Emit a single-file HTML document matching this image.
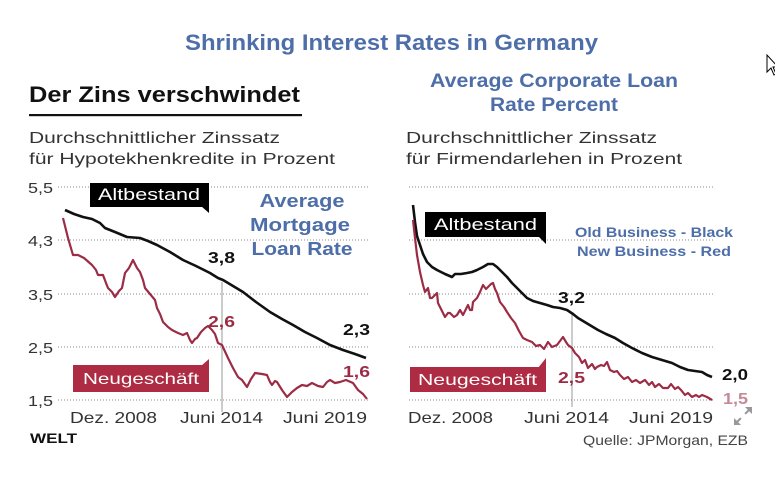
<!DOCTYPE html>
<html><head><meta charset="utf-8">
<style>
html,body{margin:0;padding:0;background:#fff;}
svg{display:block;}
text{font-family:"Liberation Sans",sans-serif;}
</style></head>
<body>
<svg width="775" height="478" viewBox="0 0 775 478" xmlns="http://www.w3.org/2000/svg">
<rect width="775" height="478" fill="#fff"/>

<!-- main title -->
<text x="185" y="50" font-size="22" font-weight="bold" fill="#4d6ea8" textLength="413" lengthAdjust="spacingAndGlyphs">Shrinking Interest Rates in Germany</text>

<!-- left header -->
<text x="29" y="102" font-size="22" font-weight="bold" fill="#111" textLength="271" lengthAdjust="spacingAndGlyphs">Der Zins verschwindet</text>
<rect x="29" y="114" width="273" height="2.2" fill="#111"/>
<text x="29" y="143" font-size="16" fill="#333" textLength="251" lengthAdjust="spacingAndGlyphs">Durchschnittlicher Zinssatz</text>
<text x="29" y="164" font-size="16" fill="#333" textLength="306" lengthAdjust="spacingAndGlyphs">für Hypotekhenkredite in Prozent</text>

<!-- right header -->
<text x="554" y="87" font-size="19" font-weight="bold" fill="#4d6ea8" text-anchor="middle" textLength="248" lengthAdjust="spacingAndGlyphs">Average Corporate Loan</text>
<text x="554" y="111" font-size="19" font-weight="bold" fill="#4d6ea8" text-anchor="middle" textLength="128" lengthAdjust="spacingAndGlyphs">Rate Percent</text>
<text x="406" y="143" font-size="16" fill="#333" textLength="251" lengthAdjust="spacingAndGlyphs">Durchschnittlicher Zinssatz</text>
<text x="406" y="164" font-size="16" fill="#333" textLength="276" lengthAdjust="spacingAndGlyphs">für Firmendarlehen in Prozent</text>

<!-- left grid -->
<g stroke="#888" stroke-width="1" stroke-dasharray="1 2">
<line x1="58" y1="187" x2="370" y2="187"/>
<line x1="58" y1="240" x2="370" y2="240"/>
<line x1="58" y1="294" x2="370" y2="294"/>
<line x1="58" y1="347" x2="370" y2="347"/>
<line x1="58" y1="400" x2="370" y2="400"/>
<line x1="409" y1="187" x2="713" y2="187"/>
<line x1="409" y1="240" x2="713" y2="240"/>
<line x1="409" y1="294" x2="713" y2="294"/>
<line x1="409" y1="347" x2="713" y2="347"/>
<line x1="409" y1="400" x2="713" y2="400"/>
</g>

<!-- y labels -->
<g font-size="15" fill="#333">
<text x="28" y="193" textLength="25" lengthAdjust="spacingAndGlyphs">5,5</text>
<text x="28" y="246" textLength="25" lengthAdjust="spacingAndGlyphs">4,3</text>
<text x="28" y="300" textLength="25" lengthAdjust="spacingAndGlyphs">3,5</text>
<text x="28" y="353" textLength="25" lengthAdjust="spacingAndGlyphs">2,5</text>
<text x="28" y="406" textLength="25" lengthAdjust="spacingAndGlyphs">1,5</text>
</g>

<!-- vertical markers -->
<line x1="222" y1="282" x2="222" y2="412" stroke="#999" stroke-width="1"/>
<line x1="572" y1="313" x2="572" y2="407" stroke="#999" stroke-width="1"/>

<!-- left series -->
<polyline fill="none" stroke="#111" stroke-width="2.6" stroke-linejoin="round" points="65,210 74,214 83,217 92,219 100,223 105,228 115,232 127,237 140,238 148,241 157,245 170,252 183,260 196,266 210,273 218,278 223,280 233,286 243,292 256,302 270,312 282,319 293,325 305,332 317,338 330,345 343,350 355,354 366,358"/>
<polyline fill="none" stroke="#9c2c45" stroke-width="2.2" stroke-linejoin="round" points="63,218 68,238 73,255 78,255 84,258 92,265 96,270 98,275 103,275 106,283 108,288 112,292 115,297 119,291 122,288 125,273 129,268 133,260 137,268 140,272 143,280 145,288 150,294 155,300 157,308 160,314 163,322 168,327 172,330 178,333 183,335 187,333 190,340 192,343 195,339 197,338 201,332 205,328 208,326 212,330 215,334 218,343 222,345 228,358 233,368 238,377 242,380 247,387 251,379 255,373 262,374 267,375 270,382 272,385 275,381 277,382 282,390 287,397 292,392 297,388 302,385 307,386 312,383 318,386 323,387 327,382 330,380 335,383 340,382 346,380 353,383 358,390 363,394 367,399"/>

<!-- right series -->
<polyline fill="none" stroke="#111" stroke-width="2.6" stroke-linejoin="round" points="413,205 415,222 417,236 420,245 423,254 427,262 432,267 437,270 445,274 452,277 455,274 461,274 467,273 472,272 477,270 483,267 488,264 493,264 497,267 502,272 507,277 512,283 517,288 522,293 527,298 533,301 540,303 547,305 553,307 560,308 567,310 573,314 578,318 588,324 598,330 606,334 615,338 623,343 632,348 642,353 652,357 662,360 672,363 680,367 688,370 695,371 702,372 707,375 712,377"/>
<polyline fill="none" stroke="#9c2c45" stroke-width="2.2" stroke-linejoin="round" points="413,220 415,238 417,255 420,272 423,285 425,292 428,288 430,298 432,298 435,295 437,293 438,303 440,307 443,313 445,317 448,313 450,313 454,317 457,315 460,310 463,315 466,309 468,305 470,310 472,310 473,302 477,298 480,292 483,285 486,289 488,287 491,284 493,283 495,289 497,293 500,302 504,307 507,312 511,318 515,323 519,331 523,338 527,340 532,342 536,346 540,345 544,349 548,342 552,347 557,345 560,341 563,337 566,342 568,345 572,348 575,353 579,357 582,363 585,360 588,368 592,364 595,369 597,367 601,365 604,366 607,362 610,370 614,372 617,371 620,375 624,379 628,377 632,382 636,380 640,383 645,380 649,385 652,382 655,387 659,384 663,388 668,388 671,384 675,389 678,387 681,390 685,395 688,393 692,397 696,395 699,397 702,395 707,397 712,400"/>

<!-- Altbestand labels -->
<rect x="90" y="183" width="119" height="24" fill="#000"/>
<polygon points="201,206 209,206 209,213" fill="#000"/>
<text x="98" y="200" font-size="17" fill="#fff" textLength="102" lengthAdjust="spacingAndGlyphs">Altbestand</text>

<rect x="425" y="212" width="121" height="25" fill="#000"/>
<polygon points="538,236 546,236 546,244" fill="#000"/>
<text x="434" y="230" font-size="17" fill="#fff" textLength="103" lengthAdjust="spacingAndGlyphs">Altbestand</text>

<!-- Neugeschaeft labels -->
<rect x="73" y="365" width="136" height="27" fill="#ad2b43"/>
<polygon points="201,366 209,359 209,366" fill="#ad2b43"/>
<text x="83" y="384" font-size="16" fill="#fff" textLength="116" lengthAdjust="spacingAndGlyphs">Neugeschäft</text>

<rect x="410" y="367" width="136" height="25" fill="#ad2b43"/>
<polygon points="538,368 546,358 546,368" fill="#ad2b43"/>
<text x="418" y="385" font-size="16" fill="#fff" textLength="119" lengthAdjust="spacingAndGlyphs">Neugeschäft</text>

<!-- value labels -->
<g font-size="16" font-weight="bold">
<text x="208" y="263" fill="#111" textLength="27" lengthAdjust="spacingAndGlyphs">3,8</text>
<text x="208" y="327" fill="#9c2c45" textLength="27" lengthAdjust="spacingAndGlyphs">2,6</text>
<text x="343" y="335" fill="#111" textLength="27" lengthAdjust="spacingAndGlyphs">2,3</text>
<text x="343" y="377" fill="#9c2c45" textLength="27" lengthAdjust="spacingAndGlyphs">1,6</text>
<text x="558" y="303" fill="#111" textLength="27" lengthAdjust="spacingAndGlyphs">3,2</text>
<text x="558" y="383" fill="#9c2c45" textLength="27" lengthAdjust="spacingAndGlyphs">2,5</text>
<text x="722" y="380" fill="#111" textLength="26" lengthAdjust="spacingAndGlyphs">2,0</text>
<text x="723" y="404" fill="#c58a98" textLength="25" lengthAdjust="spacingAndGlyphs">1,5</text>
</g>

<!-- Average Mortgage Loan Rate -->
<g font-size="18" font-weight="bold" fill="#4d6ea8" text-anchor="middle">
<text x="302" y="207" textLength="85" lengthAdjust="spacingAndGlyphs">Average</text>
<text x="300" y="231" textLength="100" lengthAdjust="spacingAndGlyphs">Mortgage</text>
<text x="302" y="255" textLength="101" lengthAdjust="spacingAndGlyphs">Loan Rate</text>
</g>

<!-- Old/New business -->
<g font-size="14" font-weight="bold" fill="#4d6ea8">
<text x="575" y="237" textLength="158" lengthAdjust="spacingAndGlyphs">Old Business - Black</text>
<text x="577" y="256" textLength="154" lengthAdjust="spacingAndGlyphs">New Business - Red</text>
</g>

<!-- x labels -->
<g font-size="16" fill="#333">
<text x="70" y="423" textLength="87" lengthAdjust="spacingAndGlyphs">Dez. 2008</text>
<text x="180" y="423" textLength="83" lengthAdjust="spacingAndGlyphs">Juni 2014</text>
<text x="283" y="423" textLength="84" lengthAdjust="spacingAndGlyphs">Juni 2019</text>
<text x="408" y="423" textLength="85" lengthAdjust="spacingAndGlyphs">Dez. 2008</text>
<text x="524" y="423" textLength="85" lengthAdjust="spacingAndGlyphs">Juni 2014</text>
<text x="629" y="423" textLength="84" lengthAdjust="spacingAndGlyphs">Juni 2019</text>
</g>

<!-- WELT & source -->
<text x="30" y="443" font-size="14" font-weight="bold" fill="#111" textLength="47" lengthAdjust="spacingAndGlyphs">WELT</text>
<text x="583" y="445" font-size="14" fill="#444" textLength="165" lengthAdjust="spacingAndGlyphs">Quelle: JPMorgan, EZB</text>

<!-- expand icon -->
<g stroke="#999" stroke-width="2" fill="none">
<line x1="736" y1="423" x2="750" y2="409"/>
</g>
<polygon points="734,425 734,418 741,425" fill="#999"/>
<polygon points="752,407 752,414 745,407" fill="#999"/>
<rect x="740" y="413" width="6" height="6" fill="#fff" transform="rotate(45 743 416)"/>

<!-- cursor -->
<polygon points="767,55 767,72 771,68 774,75 776,74 773,67 778,67" fill="#fff" stroke="#000" stroke-width="1"/>
</svg>
</body></html>
